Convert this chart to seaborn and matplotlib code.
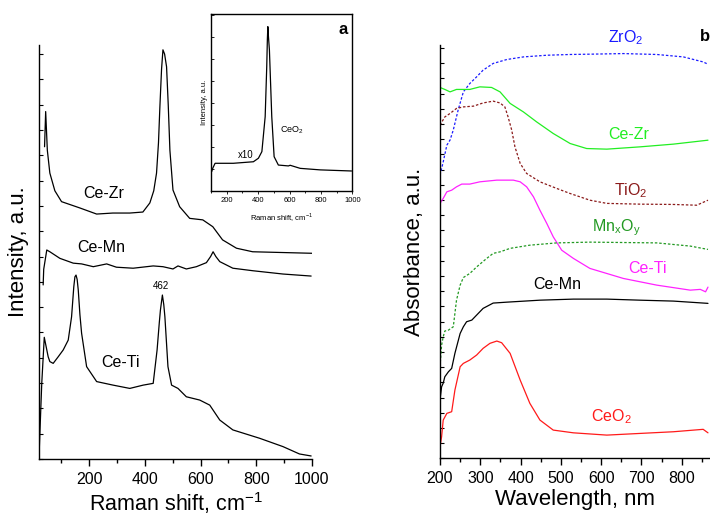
import numpy as np
import seaborn as sns
import matplotlib.pyplot as plt
from matplotlib.ticker import MultipleLocator

# ---- (a) Raman spectra, intensity in arbitrary units ----
cezr_x = [40, 44, 50, 59, 77, 101, 167, 227, 285, 346, 393, 418, 432, 442, 449, 454, 460,
          465, 471, 478, 484, 490, 501, 525, 561, 608, 644, 679, 729, 787, 1000]
cezr_y = [123.4, 137.3, 122.0, 113.0, 106.0, 101.7, 99.2, 96.8, 97.2, 97.2, 97.6, 101.2,
          106.0, 113.0, 125.0, 139.1, 154.0, 161.7, 160.0, 155.0, 140.0, 122.0, 106.3,
          99.7, 95.1, 94.5, 91.8, 86.6, 83.3, 81.9, 81.3]

cemn_x = [35, 37, 48, 59, 95, 143, 173, 215, 263, 298, 358, 430, 465, 501, 519, 549,
          585, 621, 636, 645, 655, 669, 716, 788, 896, 997]
cemn_y = [68.8, 75.0, 82.6, 81.9, 79.3, 77.4, 77.1, 76.0, 77.1, 75.8, 75.4, 76.3, 76.0,
          75.1, 76.3, 75.1, 76.0, 77.6, 80.0, 81.9, 80.0, 78.0, 75.4, 74.4, 73.1, 72.3]

ceti_x = [21, 30, 39, 53, 59, 71, 89, 107, 125, 137, 145, 149, 153, 157, 161, 167, 173,
          191, 227, 286, 346, 394, 430, 444, 452, 456, 463, 468, 472, 483, 496, 519, 549,
          597, 633, 669, 716, 812, 896, 955, 997]
ceti_y = [3.6, 30.0, 48.1, 40.4, 38.5, 37.8, 40.4, 43.1, 47.0, 56.2, 68.1, 72.0, 72.7,
          71.0, 66.8, 57.0, 49.7, 36.5, 30.6, 29.2, 27.9, 29.2, 29.9, 43.1, 54.0, 58.9,
          64.8, 61.0, 56.2, 36.5, 29.2, 27.9, 24.6, 23.3, 21.3, 15.4, 11.5, 8.2, 4.9,
          2.0, 1.2]

# inset: CeO2
ceo2r_x = [104, 112, 126, 242, 370, 402, 424, 445, 455, 459, 462, 466, 472, 487, 502,
           529, 593, 604, 668, 796, 995]
ceo2r_y = [0.88, 1.05, 1.26, 1.26, 1.33, 1.49, 1.79, 3.38, 5.65, 6.90, 7.47, 7.00, 6.41,
           3.38, 1.56, 1.18, 1.14, 1.17, 1.03, 0.96, 0.91]

# ---- (b) UV-vis spectra ----
zro2_x = [200, 208, 217, 225, 233, 245, 258, 274, 291, 307, 332, 366, 407, 465, 523,
          572, 655, 738, 804, 853, 865]
zro2_y = [1.864, 1.951, 2.061, 2.095, 2.161, 2.292, 2.412, 2.467, 2.511, 2.555, 2.599,
          2.625, 2.642, 2.653, 2.658, 2.660, 2.664, 2.658, 2.642, 2.609, 2.594]

cezr_b_x = [200, 212, 225, 241, 274, 299, 328, 349, 374, 407, 440, 481, 523, 564, 614,
            696, 779, 865]
cezr_b_y = [2.441, 2.428, 2.412, 2.428, 2.428, 2.445, 2.441, 2.412, 2.336, 2.280, 2.214,
            2.138, 2.072, 2.039, 2.035, 2.050, 2.068, 2.094]

tio2_x = [200, 212, 225, 241, 258, 283, 307, 332, 349, 361, 369, 378, 386, 399, 415,
          448, 490, 523, 572, 614, 696, 779, 837, 865]
tio2_y = [2.193, 2.247, 2.270, 2.303, 2.313, 2.318, 2.339, 2.351, 2.339, 2.313, 2.247,
          2.160, 2.050, 1.941, 1.875, 1.820, 1.776, 1.743, 1.699, 1.678, 1.673, 1.671,
          1.666, 1.699]

ceti_b_x = [200, 208, 217, 229, 241, 254, 274, 299, 341, 382, 399, 415, 432, 448, 465,
            481, 502, 531, 572, 655, 738, 821, 846, 859, 865]
ceti_b_y = [1.678, 1.711, 1.754, 1.765, 1.787, 1.805, 1.805, 1.820, 1.831, 1.831, 1.820,
            1.787, 1.721, 1.633, 1.546, 1.458, 1.370, 1.316, 1.250, 1.184, 1.140, 1.107,
            1.112, 1.096, 1.127]

mnxoy_x = [200, 204, 208, 212, 221, 233, 241, 250, 258, 274, 291, 316, 332, 349, 374,
           423, 490, 572, 738, 821, 865]
mnxoy_y = [0.603, 0.745, 0.800, 0.838, 0.844, 0.866, 1.041, 1.140, 1.190, 1.217, 1.260,
           1.316, 1.349, 1.359, 1.382, 1.403, 1.418, 1.423, 1.418, 1.397, 1.375]

cemn_b_x = [200, 204, 208, 212, 221, 229, 237, 250, 258, 266, 279, 291, 307, 332, 366,
            448, 531, 614, 696, 779, 865]
cemn_b_y = [0.384, 0.471, 0.495, 0.537, 0.570, 0.592, 0.691, 0.822, 0.866, 0.899, 0.910,
            0.943, 0.987, 1.022, 1.028, 1.041, 1.048, 1.048, 1.041, 1.035, 1.020]

ceo2_b_x = [200, 204, 208, 217, 229, 237, 250, 258, 274, 291, 307, 324, 341, 353, 374,
            399, 423, 448, 481, 531, 614, 696, 779, 853, 865]
ceo2_b_y = [0.076, 0.142, 0.252, 0.296, 0.307, 0.449, 0.603, 0.625, 0.647, 0.680, 0.724,
            0.757, 0.772, 0.761, 0.691, 0.515, 0.362, 0.252, 0.186, 0.168, 0.153, 0.164,
            0.175, 0.191, 0.168]

sns.set_theme(style='ticks')
plt.rcParams['font.family'] = ['Liberation Sans', 'DejaVu Sans']
plt.rcParams.update({'axes.linewidth': 1.0, 'axes.edgecolor': 'black',
                     'text.color': 'black', 'axes.labelcolor': 'black',
                     'xtick.color': 'black', 'ytick.color': 'black'})

fig = plt.figure(figsize=(7.1, 5.15), dpi=100)
ax = fig.add_axes([0.0549, 0.1087, 0.3845, 0.8039])
axb = fig.add_axes([0.6197, 0.1100, 0.3803, 0.8025])
axi = fig.add_axes([0.2972, 0.6291, 0.1990, 0.3431])

lw = 0.9
dots = (0, (2, 1.5))

# panel a
for xs, ys in [(cezr_x, cezr_y), (cemn_x, cemn_y), (ceti_x, ceti_y)]:
    sns.lineplot(x=xs, y=ys, ax=ax, color='black', lw=lw, estimator=None, sort=False,
                 legend=False)
ax.set_xlim(20, 1000)
ax.set_ylim(0, 163.6)
ax.xaxis.set_major_locator(MultipleLocator(200))
ax.xaxis.set_minor_locator(MultipleLocator(100))
ax.yaxis.set_major_locator(MultipleLocator(10))
ax.tick_params(axis='x', which='major', direction='out', length=5, width=1, labelsize=11.5, pad=4)
ax.tick_params(axis='x', which='minor', direction='out', length=3, width=1)
ax.tick_params(axis='y', direction='in', length=3, width=0.8, labelleft=False)
sns.despine(ax=ax)
ax.set_xlabel('Raman shift, cm$^{\\mathregular{-1}}$', fontsize=15.5)
ax.set_ylabel('Intensity, a.u.', fontsize=16)
ax.xaxis.set_label_coords(0.5, -0.075)
ax.yaxis.set_label_coords(-0.035, 0.5)
ax.text(253, 105, 'Ce-Zr', fontsize=11.5, ha='center', va='center')
ax.text(245, 83.6, 'Ce-Mn', fontsize=11.5, ha='center', va='center')
ax.text(314, 38.1, 'Ce-Ti', fontsize=11.5, ha='center', va='center')
ax.text(457, 68.4, '462', fontsize=7, ha='center', va='center')

# inset
sns.lineplot(x=ceo2r_x, y=ceo2r_y, ax=axi, color='black', lw=lw, estimator=None,
             sort=False, legend=False)
axi.set_xlim(100, 1000)
axi.set_ylim(0, 8.03)
axi.xaxis.set_major_locator(MultipleLocator(200))
axi.xaxis.set_minor_locator(MultipleLocator(100))
axi.yaxis.set_major_locator(MultipleLocator(1))
axi.tick_params(axis='x', which='major', direction='out', length=2.5, width=0.6, labelsize=5.5, pad=2)
axi.tick_params(axis='x', which='minor', direction='out', length=1.5, width=0.6)
axi.tick_params(axis='y', direction='in', length=2, width=0.6, labelleft=False)
axi.set_xlabel('Raman shift, cm$^{\\mathregular{-1}}$', fontsize=5.5, labelpad=5)
axi.set_ylabel('Intensity, a.u.', fontsize=5.5, labelpad=2)
axi.text(323, 1.64, 'x10', fontsize=7, ha='center', va='center')
axi.text(617, 2.77, 'CeO$_\\mathregular{2}$', fontsize=6.5, ha='center', va='center')
axi.text(942, 7.36, 'a', fontsize=12, fontweight='bold', ha='center', va='center')

# panel b
series_b = [
    (zro2_x, zro2_y, '#1a1aff', dots),
    (cezr_b_x, cezr_b_y, '#22ee22', '-'),
    (tio2_x, tio2_y, '#8b1a1a', dots),
    (ceti_b_x, ceti_b_y, '#ff22ff', '-'),
    (mnxoy_x, mnxoy_y, '#229922', dots),
    (cemn_b_x, cemn_b_y, 'black', '-'),
    (ceo2_b_x, ceo2_b_y, '#ff1a1a', '-'),
]
for xs, ys, c, ls in series_b:
    sns.lineplot(x=xs, y=ys, ax=axb, color=c, lw=lw, linestyle=ls, estimator=None,
                 sort=False, legend=False)
axb.set_xlim(200, 870)
axb.set_ylim(0, 2.72)
axb.xaxis.set_major_locator(MultipleLocator(100))
axb.xaxis.set_minor_locator(MultipleLocator(50))
axb.yaxis.set_major_locator(MultipleLocator(0.1))
axb.tick_params(axis='x', which='major', direction='out', length=5, width=1, labelsize=11.5, pad=4)
axb.tick_params(axis='x', which='minor', direction='out', length=3, width=1)
axb.tick_params(axis='y', direction='in', length=3, width=0.8, labelleft=False)
sns.despine(ax=axb)
axb.set_xlabel('Wavelength, nm', fontsize=16)
axb.set_ylabel('Absorbance, a.u.', fontsize=16)
axb.xaxis.set_label_coords(0.5, -0.075)
axb.yaxis.set_label_coords(-0.055, 0.5)
axb.text(661, 2.77, 'ZrO$_\\mathregular{2}$', fontsize=11.5, color='#1a1aff', ha='center', va='center', clip_on=False)
axb.text(669, 2.134, 'Ce-Zr', fontsize=11.5, color='#22ee22', ha='center', va='center')
axb.text(674, 1.765, 'TiO$_\\mathregular{2}$', fontsize=11.5, color='#8b1a1a', ha='center', va='center')
axb.text(638, 1.515, 'Mn$_\\mathregular{x}$O$_\\mathregular{y}$', fontsize=11.5, color='#229922', ha='center', va='center')
axb.text(714, 1.249, 'Ce-Ti', fontsize=11.5, color='#ff22ff', ha='center', va='center')
axb.text(490, 1.147, 'Ce-Mn', fontsize=11.5, color='black', ha='center', va='center')
axb.text(624, 0.272, 'CeO$_\\mathregular{2}$', fontsize=11.5, color='#ff1a1a', ha='center', va='center')
fig.text(705 / 710, 1 - 36 / 515, 'b', fontsize=12, fontweight='bold', ha='center', va='center')

fig.savefig('out.png', dpi=100)
